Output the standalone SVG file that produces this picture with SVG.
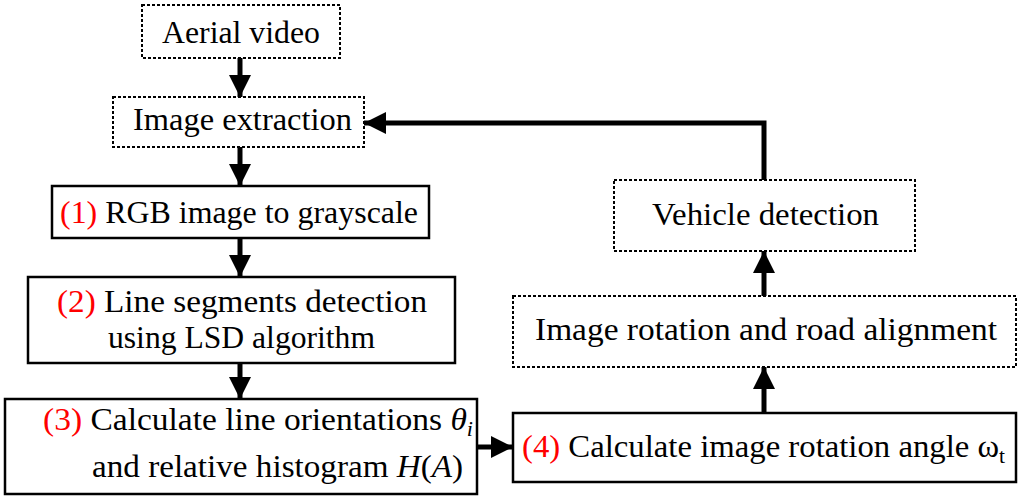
<svg xmlns="http://www.w3.org/2000/svg" width="1024" height="502" viewBox="0 0 1024 502">
<style>
.dash{fill:#fff;stroke:#000;stroke-width:2;stroke-dasharray:3 2}
.solid{fill:#fff;stroke:#000;stroke-width:2.5}
text{font-family:"Liberation Serif","Times New Roman",serif;font-size:32px;fill:#000}
.r{fill:#f00}
.it{font-style:italic}
.con{stroke:#000;stroke-width:5;fill:none}
</style>
<defs>
<marker id="ah" viewBox="0 0 10 10" refX="10" refY="5" markerWidth="4.4" markerHeight="4.4" markerUnits="strokeWidth" orient="auto">
<path d="M0,0 L10,5 L0,10 Z" fill="#000"/>
</marker>
</defs>
<rect width="1024" height="502" fill="#fff"/>
<g id="connectors">
<line class="con" x1="240" y1="58" x2="240" y2="97" marker-end="url(#ah)"/>
<line class="con" x1="240" y1="147" x2="240" y2="186" marker-end="url(#ah)"/>
<line class="con" x1="240" y1="238" x2="240" y2="277" marker-end="url(#ah)"/>
<line class="con" x1="240" y1="363" x2="240" y2="399" marker-end="url(#ah)"/>
<line class="con" x1="477" y1="447" x2="513" y2="447" marker-end="url(#ah)"/>
<line class="con" x1="764" y1="413" x2="764" y2="367" marker-end="url(#ah)"/>
<line class="con" x1="764" y1="296" x2="764" y2="251" marker-end="url(#ah)"/>
<polyline class="con" points="764,180 764,123 364,123" marker-end="url(#ah)"/>
</g>
<g id="aerial-video">
<rect class="dash" x="142" y="5" width="198" height="53"/>
<text x="162" y="43" textLength="158" lengthAdjust="spacingAndGlyphs">Aerial video</text>
</g>
<g id="image-extraction">
<rect class="dash" x="113" y="97" width="251" height="50"/>
<text x="133" y="130" textLength="219" lengthAdjust="spacingAndGlyphs">Image extraction</text>
</g>
<g id="step1">
<rect class="solid" x="52" y="186" width="377" height="52"/>
<text x="60" y="223" textLength="358" lengthAdjust="spacingAndGlyphs"><tspan class="r">(1)</tspan> RGB image to grayscale</text>
</g>
<g id="step2">
<rect class="solid" x="28" y="277" width="427" height="86"/>
<text x="57" y="312" textLength="370" lengthAdjust="spacingAndGlyphs"><tspan class="r">(2)</tspan> Line segments detection</text>
<text x="108" y="348" textLength="267" lengthAdjust="spacingAndGlyphs">using LSD algorithm</text>
</g>
<g id="step3">
<rect class="solid" x="5" y="399" width="472" height="95"/>
<text x="43" y="430" textLength="430" lengthAdjust="spacingAndGlyphs"><tspan class="r">(3)</tspan> Calculate line orientations <tspan class="it">θ</tspan><tspan class="it" font-size="21" dy="6">i</tspan></text>
<text x="92" y="477" textLength="371" lengthAdjust="spacingAndGlyphs">and relative histogram <tspan class="it">H</tspan>(<tspan class="it">A</tspan>)</text>
</g>
<g id="step4">
<rect class="solid" x="513" y="413" width="503" height="69"/>
<text x="522" y="457" textLength="483" lengthAdjust="spacingAndGlyphs"><tspan class="r">(4)</tspan> Calculate image rotation angle ω<tspan font-size="21" dy="6">t</tspan></text>
</g>
<g id="rotation">
<rect class="dash" x="513" y="296" width="503" height="71"/>
<text x="535" y="340" textLength="462" lengthAdjust="spacingAndGlyphs">Image rotation and road alignment</text>
</g>
<g id="vehicle">
<rect class="dash" x="614" y="180" width="301" height="71"/>
<text x="652" y="225" textLength="227" lengthAdjust="spacingAndGlyphs">Vehicle detection</text>
</g>
</svg>
